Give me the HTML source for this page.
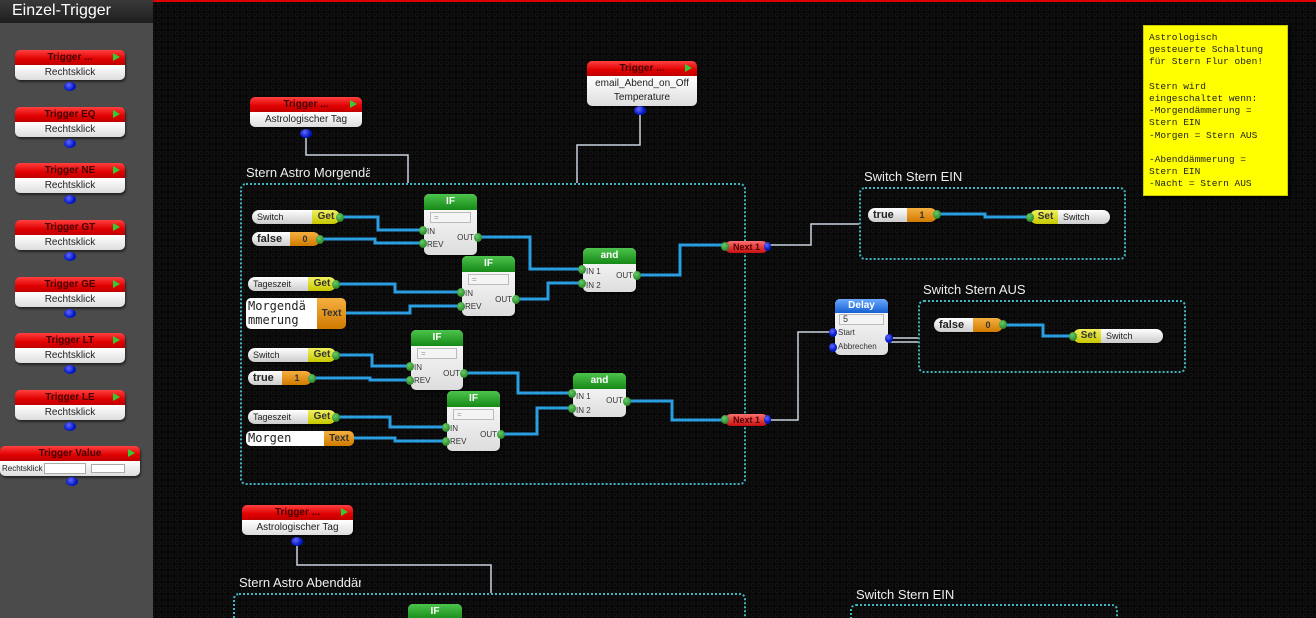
<!DOCTYPE html>
<html style="width:1316px;height:618px;overflow:hidden"><head><meta charset="utf-8"><style>
*{box-sizing:border-box;margin:0;padding:0}
body{width:1316px;height:618px;overflow:hidden;position:relative;font-family:"Liberation Sans",sans-serif;
background:#080808 radial-gradient(circle at 3px 3px,#080808 1.3px,#1c1c1c 1.8px,#080808 2.4px);background-size:6px 6px}
.a{position:absolute}
#side{left:0;top:0;width:153px;height:618px;background:#4b4b4b}
#title{left:0;top:0;width:153px;height:23px;background:linear-gradient(#3a3a3a,#1e1e1e);color:#fff;font-size:16px;padding:2px 0 0 12px}
.trg{position:absolute;border-radius:5px;overflow:hidden;box-shadow:1px 2px 2px #0008;font-size:10px;text-align:center}
.trg .h{background:linear-gradient(#ff4040,#e00000 60%,#c00000);color:#400;font-weight:bold;height:15px;line-height:15px;position:relative}
.trg .h:after{content:"";position:absolute;right:5px;top:3px;border-left:7px solid #3c3;border-top:4.5px solid transparent;border-bottom:4.5px solid transparent}
.trg .b{background:linear-gradient(#fff,#ddd);color:#222;height:15px;line-height:15px}
.dot{position:absolute;width:12px;height:9px;border-radius:50%;background:radial-gradient(circle at 40% 35%,#66f,#0018c0 60%)}
.grp{position:absolute;border:2px dotted #3fb7c0;border-radius:6px}
.gl{position:absolute;color:#eee;font-size:13px;white-space:nowrap;overflow:hidden}
.pill{position:absolute;height:14px;border-radius:7px;overflow:hidden;display:flex;font-size:9px;line-height:14px;box-shadow:1px 1px 2px #0009}
.pill .l{background:linear-gradient(#fff,#ccc);color:#222;padding-left:5px;flex:1}
.pill .g{background:linear-gradient(#f0f060,#c8c800);color:#333;font-weight:bold;font-size:10px;text-align:center}
.pill .o{background:linear-gradient(#f5b040,#d07a00);color:#333;font-weight:bold;text-align:center}
.bool{font-weight:bold;font-size:11px!important}
.pd{position:absolute;width:8px;height:9px;border-radius:50%;background:radial-gradient(circle at 40% 35%,#6c6,#176e17)}
.blk{position:absolute;border-radius:5px;background:linear-gradient(#fff,#ddd);box-shadow:1px 2px 3px #000a;font-size:8px;color:#333}
.blk .h{height:16px;border-radius:5px 5px 0 0;background:linear-gradient(#4cc44c,#168816);color:#fff;font-weight:bold;font-size:10px;text-align:center;line-height:15px}
.blk .s{margin:2px 6px;height:11px;border:1px solid #bbb;background:#f4f4f4;font-size:8px;color:#999;padding-left:3px;line-height:9px}
.next{position:absolute;width:43px;height:12px;border-radius:6px;background:linear-gradient(#ff7070,#c81010);color:#500;font-weight:bold;font-size:9px;text-align:center;line-height:12px}
</style></head><body>
<div class="a" style="left:0;top:0;width:1316px;height:2px;background:#d00"></div>
<svg class="a" style="left:0;top:0" width="1316" height="618">
<g fill="none" stroke="#c9d3df" stroke-width="1.5">
<path d="M306 134V155H408V183"/><path d="M640 111V145H577V183"/><path d="M297 542V565H491V593"/>
<path d="M768 245H811V224H859"/><path d="M768 420H798V332H835"/>
<path d="M888 338H918M888 342H918"/>
</g>
<g fill="none" stroke="#2a9ee0" stroke-width="3">
<path d="M340 217H378V230H424"/><path d="M320 239H375V243H424"/><path d="M477 237H530V269H583"/>
<path d="M336 284H395V292H462"/><path d="M346 313H410V306H462"/><path d="M515 299H548V283H583"/>
<path d="M636 275H680V245H725"/><path d="M336 355H372V366H411"/><path d="M312 378H370V380H411"/>
<path d="M463 373H518V393H573"/><path d="M336 417H390V427H447"/><path d="M354 438H395V441H447"/>
<path d="M500 434H537V408H573"/><path d="M626 401H672V420H725"/>
<path d="M937 214H985V217H1030"/><path d="M1003 325H1043V336H1073"/>
</g></svg>
<div id="side" class="a"></div>
<div id="title" class="a">Einzel-Trigger</div>
<div class="trg" style="left:15px;top:50px;width:110px"><div class="h">Trigger ...</div><div class="b">Rechtsklick</div></div><div class="dot" style="left:64px;top:82px"></div>
<div class="trg" style="left:15px;top:107px;width:110px"><div class="h">Trigger EQ</div><div class="b">Rechtsklick</div></div><div class="dot" style="left:64px;top:139px"></div>
<div class="trg" style="left:15px;top:163px;width:110px"><div class="h">Trigger NE</div><div class="b">Rechtsklick</div></div><div class="dot" style="left:64px;top:195px"></div>
<div class="trg" style="left:15px;top:220px;width:110px"><div class="h">Trigger GT</div><div class="b">Rechtsklick</div></div><div class="dot" style="left:64px;top:252px"></div>
<div class="trg" style="left:15px;top:277px;width:110px"><div class="h">Trigger GE</div><div class="b">Rechtsklick</div></div><div class="dot" style="left:64px;top:309px"></div>
<div class="trg" style="left:15px;top:333px;width:110px"><div class="h">Trigger LT</div><div class="b">Rechtsklick</div></div><div class="dot" style="left:64px;top:365px"></div>
<div class="trg" style="left:15px;top:390px;width:110px"><div class="h">Trigger LE</div><div class="b">Rechtsklick</div></div><div class="dot" style="left:64px;top:422px"></div>
<div class="trg" style="left:0;top:446px;width:140px"><div class="h">Trigger Value</div><div class="b" style="text-align:left;font-size:8px;padding-left:2px;display:flex;gap:2px">Rechtsklick<span style="background:#fff;border:1px solid #aaa;width:42px;height:11px;margin-top:2px"></span><span style="background:#fff;border:1px solid #aaa;width:34px;height:9px;margin-top:3px;margin-left:3px"></span></div></div><div class="dot" style="left:66px;top:477px"></div>

<div class="trg" style="left:250px;top:97px;width:112px"><div class="h">Trigger ...</div><div class="b">Astrologischer Tag</div></div><div class="dot" style="left:300px;top:129px"></div>
<div class="trg" style="left:587px;top:61px;width:110px"><div class="h">Trigger ...</div><div class="b" style="height:30px;line-height:14px;padding-top:1px">email_Abend_on_Off<br>Temperature</div></div><div class="dot" style="left:634px;top:106px"></div>
<div class="trg" style="left:242px;top:505px;width:111px"><div class="h">Trigger ...</div><div class="b">Astrologischer Tag</div></div><div class="dot" style="left:291px;top:537px"></div>

<div class="grp" style="left:240px;top:183px;width:506px;height:302px"></div>
<div class="gl" style="left:246px;top:165px;width:124px">Stern Astro Morgendämmerung</div>
<div class="grp" style="left:233px;top:593px;width:513px;height:30px;border-bottom:none"></div>
<div class="gl" style="left:239px;top:575px;width:122px">Stern Astro Abenddämmerung</div>
<div class="grp" style="left:859px;top:187px;width:267px;height:73px"></div>
<div class="gl" style="left:864px;top:169px">Switch Stern EIN</div>
<div class="grp" style="left:918px;top:300px;width:268px;height:73px"></div>
<div class="gl" style="left:923px;top:282px">Switch Stern AUS</div>
<div class="grp" style="left:850px;top:604px;width:268px;height:20px;border-bottom:none"></div>
<div class="gl" style="left:856px;top:587px">Switch Stern EIN</div>

<div class="pill" style="left:252px;top:210px;width:88px"><span class="l">Switch</span><span class="g" style="width:28px">Get</span></div><div class="pd" style="left:336px;top:213px"></div>
<div class="pill" style="left:252px;top:232px;width:68px"><span class="l bool">false</span><span class="o" style="width:30px">0</span></div><div class="pd" style="left:316px;top:235px"></div>
<div class="pill" style="left:248px;top:277px;width:88px"><span class="l">Tageszeit</span><span class="g" style="width:28px">Get</span></div><div class="pd" style="left:332px;top:280px"></div>
<div class="a" style="left:246px;top:298px;width:100px;height:31px;border-radius:5px;overflow:hidden;display:flex"><span style="background:#fff;flex:1;font-family:'DejaVu Sans Mono',monospace;font-size:12px;line-height:14px;color:#222;padding:1px 2px">Morgendä mmerung</span><span style="background:linear-gradient(#f5b040,#d07a00);width:29px;font-size:10px;font-weight:bold;line-height:31px;text-align:center;color:#333">Text</span></div>
<div class="pill" style="left:248px;top:348px;width:88px"><span class="l">Switch</span><span class="g" style="width:28px">Get</span></div><div class="pd" style="left:332px;top:351px"></div>
<div class="pill" style="left:248px;top:371px;width:64px"><span class="l bool">true</span><span class="o" style="width:30px">1</span></div><div class="pd" style="left:308px;top:374px"></div>
<div class="pill" style="left:248px;top:410px;width:88px"><span class="l">Tageszeit</span><span class="g" style="width:28px">Get</span></div><div class="pd" style="left:332px;top:413px"></div>
<div class="a" style="left:246px;top:431px;width:108px;height:15px;border-radius:5px;overflow:hidden;display:flex"><span style="background:#fff;flex:1;font-family:'DejaVu Sans Mono',monospace;font-size:12px;line-height:15px;color:#222;padding-left:2px">Morgen</span><span style="background:linear-gradient(#f5b040,#d07a00);width:30px;font-size:10px;font-weight:bold;line-height:15px;text-align:center;color:#333">Text</span></div>

<div class="blk" style="left:424px;top:194px;width:53px;height:61px"><div class="h">IF</div><div class="s">=</div><div style="padding-left:3px;line-height:13px">IN<br>REV</div><div class="a" style="right:3px;top:39px">OUT</div></div>
<div class="blk" style="left:462px;top:256px;width:53px;height:60px"><div class="h">IF</div><div class="s">=</div><div style="padding-left:3px;line-height:13px">IN<br>REV</div><div class="a" style="right:3px;top:39px">OUT</div></div>
<div class="blk" style="left:411px;top:330px;width:52px;height:60px"><div class="h">IF</div><div class="s">=</div><div style="padding-left:3px;line-height:13px">IN<br>REV</div><div class="a" style="right:3px;top:39px">OUT</div></div>
<div class="blk" style="left:447px;top:391px;width:53px;height:60px"><div class="h">IF</div><div class="s">=</div><div style="padding-left:3px;line-height:13px">IN<br>REV</div><div class="a" style="right:3px;top:39px">OUT</div></div>
<div class="blk" style="left:408px;top:604px;width:54px;height:14px;border-radius:5px 5px 0 0"><div class="h">IF</div></div>
<div class="blk" style="left:583px;top:248px;width:53px;height:44px"><div class="h">and</div><div style="padding-left:3px;line-height:14px;margin-top:1px">IN 1<br>IN 2</div><div class="a" style="right:3px;top:23px">OUT</div></div>
<div class="blk" style="left:573px;top:373px;width:53px;height:44px"><div class="h">and</div><div style="padding-left:3px;line-height:14px;margin-top:1px">IN 1<br>IN 2</div><div class="a" style="right:3px;top:23px">OUT</div></div>
<div class="pd" style="left:419px;top:226px"></div><div class="pd" style="left:419px;top:239px"></div><div class="pd" style="left:474px;top:233px"></div>
<div class="pd" style="left:457px;top:288px"></div><div class="pd" style="left:457px;top:302px"></div><div class="pd" style="left:512px;top:295px"></div>
<div class="pd" style="left:406px;top:362px"></div><div class="pd" style="left:406px;top:376px"></div><div class="pd" style="left:460px;top:369px"></div>
<div class="pd" style="left:442px;top:423px"></div><div class="pd" style="left:442px;top:437px"></div><div class="pd" style="left:497px;top:430px"></div>
<div class="pd" style="left:578px;top:265px"></div><div class="pd" style="left:578px;top:279px"></div><div class="pd" style="left:633px;top:271px"></div>
<div class="pd" style="left:568px;top:389px"></div><div class="pd" style="left:568px;top:404px"></div><div class="pd" style="left:623px;top:397px"></div>

<div class="next" style="left:725px;top:241px">Next 1</div><div class="pd" style="left:721px;top:242px"></div><div class="dot" style="left:764px;top:242px;width:7px"></div>
<div class="next" style="left:725px;top:414px">Next 1</div><div class="pd" style="left:721px;top:415px"></div><div class="dot" style="left:764px;top:415px;width:7px"></div>

<div class="pill" style="left:868px;top:208px;width:69px"><span class="l bool">true</span><span class="o" style="width:30px">1</span></div><div class="pd" style="left:933px;top:210px"></div>
<div class="pill" style="left:1030px;top:210px;width:80px"><span class="g" style="width:28px;padding-left:3px">Set</span><span class="l">Switch</span></div><div class="pd" style="left:1026px;top:213px"></div>
<div class="blk" style="left:835px;top:299px;width:53px;height:56px"><div class="h" style="background:linear-gradient(#6aa8ff,#1560d0);height:14px;line-height:13px">Delay</div><div class="s" style="margin:1px 4px;color:#333;font-size:9px">5</div><div style="padding-left:3px;line-height:14px">Start<br>Abbrechen</div></div>
<div class="dot" style="left:829px;top:328px;width:8px"></div><div class="dot" style="left:829px;top:343px;width:8px"></div><div class="dot" style="left:885px;top:334px;width:8px"></div>
<div class="pill" style="left:934px;top:318px;width:69px"><span class="l bool">false</span><span class="o" style="width:30px">0</span></div><div class="pd" style="left:999px;top:320px"></div>
<div class="pill" style="left:1073px;top:329px;width:90px"><span class="g" style="width:28px;padding-left:3px">Set</span><span class="l">Switch</span></div><div class="pd" style="left:1069px;top:332px"></div>

<div class="a" style="left:1143px;top:25px;width:145px;height:171px;background:#ffff00;border:1px solid #cc0;box-shadow:2px 2px 3px #000;font-family:'Liberation Mono',monospace;font-size:9.5px;line-height:12.2px;color:#222;padding:6px 5px;white-space:pre">Astrologisch
gesteuerte Schaltung
für Stern Flur oben!

Stern wird
eingeschaltet wenn:
-Morgendämmerung =
Stern EIN
-Morgen = Stern AUS

-Abenddämmerung =
Stern EIN
-Nacht = Stern AUS</div>
</body></html>
